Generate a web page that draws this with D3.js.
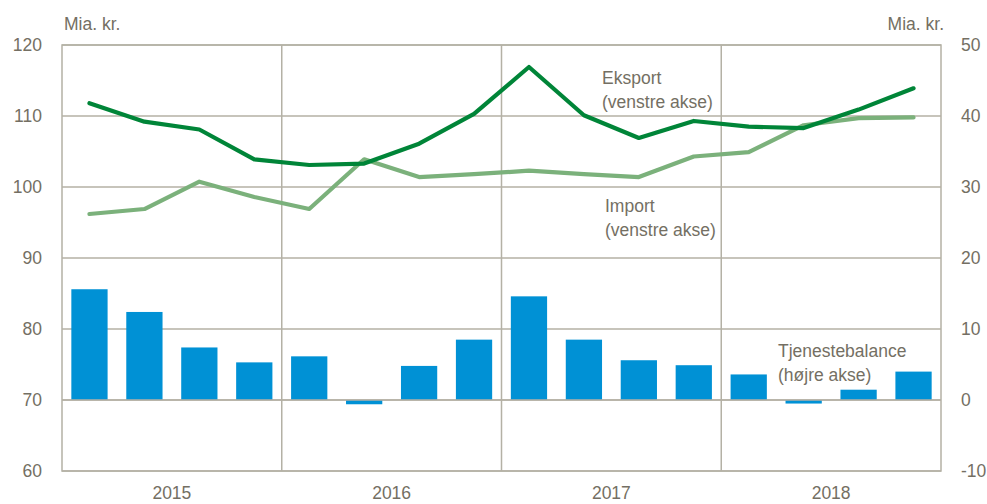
<!DOCTYPE html>
<html><head><meta charset="utf-8">
<script src="https://cdn.jsdelivr.net/npm/d3@7"></script>
<style>body{margin:0;background:#fff}svg{display:block}text{font-family:"Liberation Sans",Arial,sans-serif}</style>
</head><body><svg id="c" width="987" height="504"></svg>
<script>
const quarters = ["2015K1","2015K2","2015K3","2015K4","2016K1","2016K2","2016K3","2016K4","2017K1","2017K2","2017K3","2017K4","2018K1","2018K2","2018K3","2018K4"];
const years = ["2015","2016","2017","2018"];
const eksport = [111.8,109.2,108.1,103.9,103.1,103.3,106.1,110.3,116.9,110.1,106.9,109.3,108.5,108.3,110.9,113.9];
const importV = [96.2,96.9,100.75,98.6,96.9,103.9,101.4,101.8,102.3,101.8,101.4,104.3,104.9,108.7,109.7,109.8];
const tjeneste = [15.6,12.4,7.4,5.3,6.15,-0.6,4.8,8.5,14.6,8.5,5.6,4.9,3.6,-0.5,1.45,4.0];
const leftTicks = [60,70,80,90,100,110,120];
const rightTicks = [-10,0,10,20,30,40,50];

const svg = d3.select("#c");
const L = 62, R = 941, T = 45, B = 471;
const grid = "#b4b1a5", txt = "#746f63";
const x = d3.scaleBand().domain(quarters).range([L, R]).paddingInner(0.34).paddingOuter(0.17);
const xc = d => x(d) + x.bandwidth()/2;
const yL = d3.scaleLinear().domain([60,120]).range([B, T]);
const yR = d3.scaleLinear().domain([-10,50]).range([B, T]);

// gridlines
svg.append("g").selectAll("line").data(leftTicks).join("line")
  .attr("x1", L).attr("x2", R).attr("y1", d => yL(d)).attr("y2", d => yL(d))
  .attr("stroke", grid).attr("stroke-width", 1.5);
// year dividers
const yearStart = years.map(y => quarters.indexOf(y + "K1"));
const qw = (R - L) / quarters.length;
svg.append("g").selectAll("line").data(yearStart.slice(1)).join("line")
  .attr("x1", i => L + i*qw).attr("x2", i => L + i*qw).attr("y1", T).attr("y2", B)
  .attr("stroke", grid).attr("stroke-width", 1.5);
// frame
svg.append("rect").attr("x", L).attr("y", T).attr("width", R-L).attr("height", B-T)
  .attr("fill", "none").attr("stroke", grid).attr("stroke-width", 1.5);

// bars
svg.append("g").selectAll("rect").data(tjeneste).join("rect")
  .attr("x", (d,i) => x(quarters[i])).attr("width", x.bandwidth())
  .attr("y", d => yR(Math.max(0,d))).attr("height", d => Math.abs(yR(d) - yR(0)))
  .attr("fill", "#0091d5");
// redraw zero line over bars
svg.append("line").attr("x1", L).attr("x2", R).attr("y1", yR(0)).attr("y2", yR(0))
  .attr("stroke", grid).attr("stroke-width", 1.5);

// lines
const line = d3.line().x((d,i) => xc(quarters[i])).y(d => yL(d));
svg.append("path").datum(importV).attr("d", line).attr("fill","none")
  .attr("stroke", "#7bb17b").attr("stroke-width", 4.2).attr("stroke-linejoin","round").attr("stroke-linecap","round");
svg.append("path").datum(eksport).attr("d", line).attr("fill","none")
  .attr("stroke", "#008538").attr("stroke-width", 4.2).attr("stroke-linejoin","round").attr("stroke-linecap","round");

// axes labels
const fs = 17.5;
svg.append("g").selectAll("text").data(leftTicks).join("text")
  .attr("x", 42).attr("y", d => yL(d)).attr("dy", "0.36em").attr("text-anchor","end")
  .attr("font-size", fs).attr("fill", txt).text(d => d);
svg.append("g").selectAll("text").data(rightTicks).join("text")
  .attr("x", 961).attr("y", d => yR(d)).attr("dy", "0.36em").attr("text-anchor","start")
  .attr("font-size", fs).attr("fill", txt).text(d => d);
svg.append("g").selectAll("text").data(years).join("text")
  .attr("x", (d,i) => L + (yearStart[i] + 2) * qw).attr("y", 499).attr("text-anchor","middle")
  .attr("font-size", fs).attr("fill", txt).text(d => d);
svg.append("text").attr("x", 64).attr("y", 30).attr("font-size", fs).attr("fill", txt).text("Mia. kr.");
svg.append("text").attr("x", 944).attr("y", 30).attr("text-anchor","end").attr("font-size", fs).attr("fill", txt).text("Mia. kr.");

// annotations
function label(x0, y0, lines) {
  const t = svg.append("text").attr("x", x0).attr("y", y0).attr("font-size", fs).attr("fill", txt);
  lines.forEach((s,i) => t.append("tspan").attr("x", x0).attr("dy", i ? 23.5 : 0).text(s));
}
label(602, 84, ["Eksport", "(venstre akse)"]);
label(605, 212, ["Import", "(venstre akse)"]);
label(778, 357, ["Tjenestebalance", "(højre akse)"]);
</script></body></html>
